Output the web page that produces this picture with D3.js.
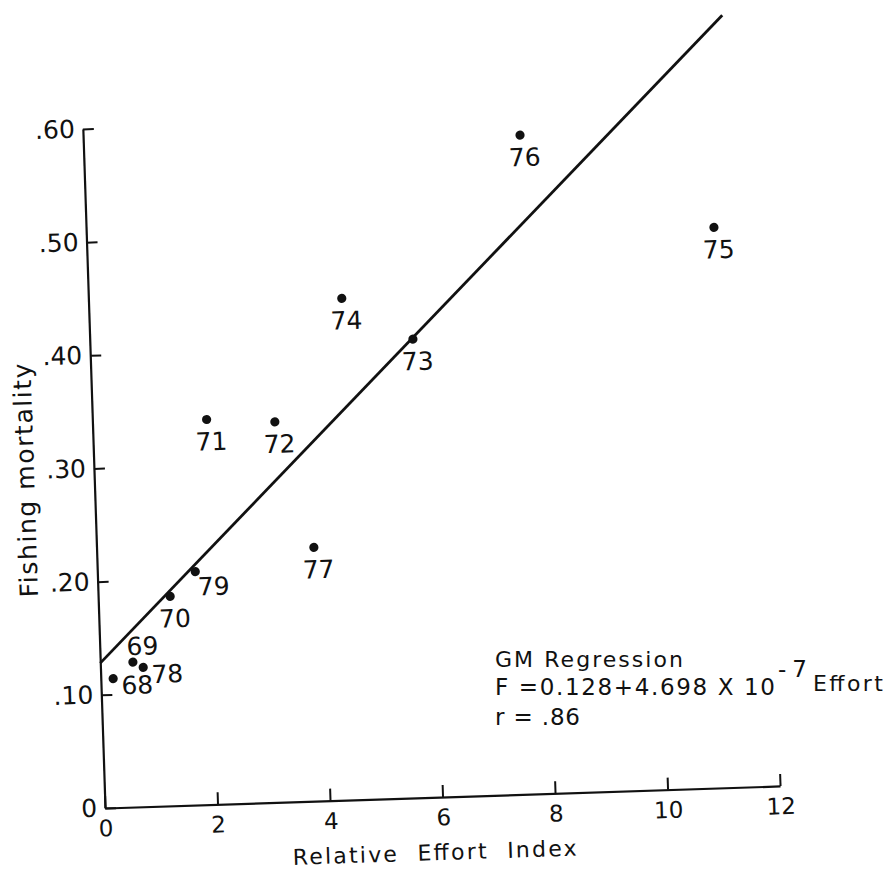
<!DOCTYPE html>
<html>
<head>
<meta charset="utf-8">
<script src="https://cdn.jsdelivr.net/npm/d3@7"></script>
<style>
  body { margin: 0; background: #fff; }
  text { font-family: "DejaVu Sans", sans-serif; fill: #111; }
</style>
</head>
<body>
<div id="chart"></div>
<script>
// year of each point, relative effort index, fishing mortality
const years = ["68", "69", "70", "71", "72", "73", "74", "75", "76", "77", "78", "79"];
const effort = [0.22, 0.58, 1.28, 2.03, 3.24, 5.74, 4.50, 11.15, 7.76, 3.86, 0.76, 1.74];
const mortality = [0.114, 0.128, 0.185, 0.340, 0.336, 0.405, 0.443, 0.495, 0.582, 0.224, 0.123, 0.206];
// where the year label sits relative to its dot
const labelPlace = ["right", "above", "below", "below", "below", "below", "below", "below", "below", "below", "right", "belowRight"];

const xTicks = [0, 2, 4, 6, 8, 10, 12];
const xTickLabels = ["0", "2", "4", "6", "8", "10", "12"];
const yTicks = [0, 0.1, 0.2, 0.3, 0.4, 0.5, 0.6];
const yTickLabels = ["0", ".10", ".20", ".30", ".40", ".50", ".60"];

// GM regression line
const gmIntercept = 0.128;
const gmSlope = 0.0485;
const gmRange = [0, 11.42];

function create_effort_plot(targetElementId) {
    const W = 895, H = 871;
    const origin = { x: 105, y: 808 };
    const tilt = -1.87; // the scanned figure is a little rotated

    const svg = d3.select(`#${targetElementId}`).append("svg")
        .attr("width", W)
        .attr("height", H);
    svg.append("rect").attr("width", W).attr("height", H).attr("fill", "#fff");

    const g = svg.append("g")
        .attr("transform", `rotate(${tilt},${origin.x},${origin.y})`);

    const x = d3.scaleLinear().domain([0, 12]).range([origin.x, origin.x + 675.4]);
    const y = d3.scaleLinear().domain([0, 0.6]).range([origin.y, origin.y - 679.4]);

    // x axis, ticks pointing up
    g.append("g")
        .attr("transform", `translate(0,${origin.y})`)
        .call(d3.axisBottom(x)
            .tickValues(xTicks)
            .tickFormat((d, i) => xTickLabels[i])
            .tickSizeInner(-12)
            .tickSizeOuter(0)
            .tickPadding(12))
        .call(a => a.select(".domain").attr("stroke", "#111").attr("stroke-width", 2.2))
        .call(a => a.selectAll(".tick line").attr("stroke", "#111").attr("stroke-width", 2))
        .call(a => a.selectAll(".tick text")
            .style("font-family", "DejaVu Sans, sans-serif")
            .style("font-size", "23px").attr("fill", "#111"));

    // y axis, ticks pointing right
    g.append("g")
        .attr("transform", `translate(${origin.x},0)`)
        .call(d3.axisLeft(y)
            .tickValues(yTicks)
            .tickFormat((d, i) => yTickLabels[i])
            .tickSizeInner(-11)
            .tickSizeOuter(0)
            .tickPadding(8))
        .call(a => a.select(".domain").attr("stroke", "#111").attr("stroke-width", 2.2))
        .call(a => a.selectAll(".tick line").attr("stroke", "#111").attr("stroke-width", 2))
        .call(a => a.selectAll(".tick text")
            .style("font-family", "DejaVu Sans, sans-serif")
            .style("font-size", "25px").attr("fill", "#111"));

    // axis titles
    g.append("text")
        .attr("x", 291)
        .attr("y", 871)
        .attr("xml:space", "preserve")
        .attr("textLength", 284)
        .attr("lengthAdjust", "spacing")
        .style("font-size", "22px")
        .text("Relative  Effort  Index");

    g.append("text")
        .attr("transform", `translate(45,478) rotate(-90)`)
        .attr("text-anchor", "middle")
        .attr("textLength", 234)
        .attr("lengthAdjust", "spacing")
        .style("font-size", "25px")
        .text("Fishing  mortality");

    // regression line
    g.append("line")
        .attr("x1", x(gmRange[0]))
        .attr("y1", y(gmIntercept + gmSlope * gmRange[0]))
        .attr("x2", x(gmRange[1]))
        .attr("y2", y(gmIntercept + gmSlope * gmRange[1]))
        .attr("stroke", "#111")
        .attr("stroke-width", 2.8);

    const pts = years.map((yr, i) => ({ yr, e: effort[i], f: mortality[i], place: labelPlace[i] }));

    g.selectAll(".dot")
        .data(pts)
        .enter()
        .append("circle")
            .attr("class", "dot")
            .attr("cx", d => x(d.e))
            .attr("cy", d => y(d.f))
            .attr("r", 4.6)
            .attr("fill", "#111");

    const offsets = {
        below: { dx: 4, dy: 31, anchor: "middle" },
        above: { dx: 10, dy: -7, anchor: "middle" },
        right: { dx: 8, dy: 16, anchor: "start" },
        belowRight: { dx: 2, dy: 24, anchor: "start" }
    };

    g.selectAll(".yrLabel")
        .data(pts)
        .enter()
        .append("text")
            .attr("class", "yrLabel")
            .attr("x", d => x(d.e) + offsets[d.place].dx)
            .attr("y", d => y(d.f) + offsets[d.place].dy)
            .attr("text-anchor", d => offsets[d.place].anchor)
            .style("font-size", "25px")
            .text(d => d.yr);

    // regression note (lettered nearly level on the page)
    const note = svg.append("g");
    note.append("text")
        .attr("x", 495).attr("y", 667)
        .attr("textLength", 188).attr("lengthAdjust", "spacing")
        .style("font-size", "22px")
        .text("GM Regression");
    note.append("text")
        .attr("x", 495).attr("y", 695)
        .attr("textLength", 280).attr("lengthAdjust", "spacing")
        .style("font-size", "23px")
        .text("F =0.128+4.698 X 10");
    note.append("text")
        .attr("x", 778).attr("y", 677)
        .attr("textLength", 29).attr("lengthAdjust", "spacing")
        .style("font-size", "23px")
        .text("-7");
    note.append("text")
        .attr("x", 813).attr("y", 691)
        .attr("textLength", 70).attr("lengthAdjust", "spacing")
        .style("font-size", "22px")
        .text("Effort");
    note.append("text")
        .attr("x", 495).attr("y", 725)
        .attr("textLength", 85).attr("lengthAdjust", "spacing")
        .style("font-size", "23px")
        .text("r = .86");
}

create_effort_plot("chart");
</script>
</body>
</html>
